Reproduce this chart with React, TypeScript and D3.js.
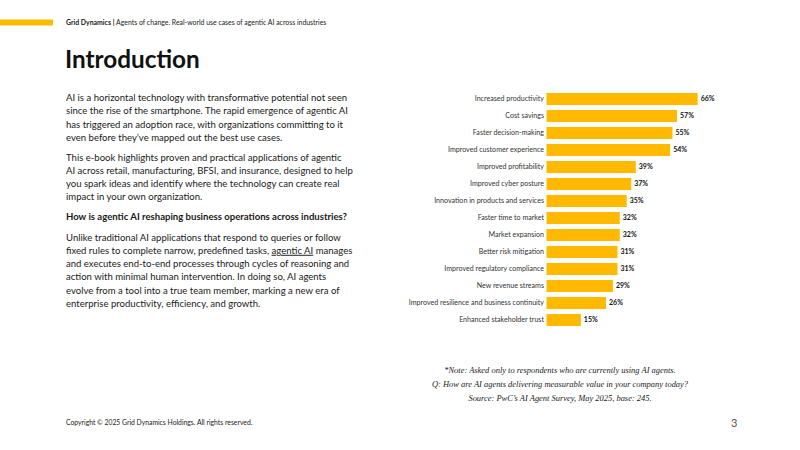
import React from "react";
import * as d3 from "d3";

const categories = [
  "Increased productivity",
  "Cost savings",
  "Faster decision-making",
  "Improved customer experience",
  "Improved profitability",
  "Improved cyber posture",
  "Innovation in products and services",
  "Faster time to market",
  "Market expansion",
  "Better risk mitigation",
  "Improved regulatory compliance",
  "New revenue streams",
  "Improved resilience and business continuity",
  "Enhanced stakeholder trust",
];
const values = [66, 57, 55, 54, 39, 37, 35, 32, 32, 31, 31, 29, 26, 15];

const para1 = [
  "AI is a horizontal technology with transformative potential not seen",
  "since the rise of the smartphone. The rapid emergence of agentic AI",
  "has triggered an adoption race, with organizations committing to it",
  "even before they\u2019ve mapped out the best use cases.",
];
const para2 = [
  "This e-book highlights proven and practical applications of agentic",
  "AI across retail, manufacturing, BFSI, and insurance, designed to help",
  "you spark ideas and identify where the technology can create real",
  "impact in your own organization.",
];
const question = "How is agentic AI reshaping business operations across industries?";
const para3 = [
  "Unlike traditional AI applications that respond to queries or follow",
  "fixed rules to complete narrow, predefined tasks, |agentic AI| manages",
  "and executes end-to-end processes through cycles of reasoning and",
  "action with minimal human intervention. In doing so, AI agents",
  "evolve from a tool into a true team member, marking a new era of",
  "enterprise productivity, efficiency, and growth.",
];
const notes = [
  "*Note: Asked only to respondents who are currently using AI agents.",
  "Q: How are AI agents delivering measurable value in your company today?",
  "Source: PwC\u2019s AI Agent Survey, May 2025, base: 245.",
];

const YELLOW = "#FFB900";
const SANS = "Lato, 'Open Sans', sans-serif";

function Line({ text, x, y }: { text: string; x: number; y: number }) {
  if (text.includes("|")) {
    const parts = text.split("|");
    return (
      <text x={x} y={y}>
        {parts.map((p, i) => (
          <tspan key={i} textDecoration={i === 1 ? "underline" : undefined}>
            {p}
          </tspan>
        ))}
      </text>
    );
  }
  return (
    <text x={x} y={y}>
      {text}
    </text>
  );
}

export default function App() {
  const n = categories.length;
  const y = d3
    .scaleBand<string>()
    .domain(categories)
    .range([90.5, 90.5 + 17 * n])
    .paddingInner(0.29)
    .paddingOuter(0.145);
  const x = d3.scaleLinear().domain([0, 100]).range([546.5, 775.5]);

  return (
    <svg
      width={800}
      height={450}
      style={{ position: "absolute", left: 0, top: 0, background: "#fff" }}
      fontFamily={SANS}
    >
      <rect x={0} y={19.5} width={53} height={6} fill={YELLOW} />
      <text x={66} y={25} fontSize={6.9} fill="#222">
        <tspan fontWeight={700}>Grid Dynamics | </tspan>
        <tspan>Agents of change. Real-world use cases of agentic AI across industries</tspan>
      </text>
      <text x={65} y={68} fontSize={24.3} fontWeight={700} fill="#111">
        Introduction
      </text>

      <g fontSize={9.55} fill="#1a1a1a">
        {para1.map((t, i) => (
          <Line key={"a" + i} text={t} x={66} y={101 + i * 13.3} />
        ))}
        {para2.map((t, i) => (
          <Line key={"b" + i} text={t} x={66} y={160.5 + i * 13.3} />
        ))}
        <text x={66} y={219.5} fontWeight={700}>
          {question}
        </text>
        {para3.map((t, i) => (
          <Line key={"c" + i} text={t} x={66} y={240.5 + i * 13.3} />
        ))}
      </g>

      <g>
        {categories.map((c, i) => {
          const yy = y(c)!;
          const bw = y.bandwidth();
          return (
            <g key={c}>
              <text
                x={544}
                y={yy + bw / 2}
                dy="0.35em"
                textAnchor="end"
                fontSize={7.1}
                fill="#333"
              >
                {c}
              </text>
              <rect x={x(0)} y={yy} width={x(values[i]) - x(0)} height={bw} fill={YELLOW} />
              <text
                x={x(values[i]) + 3}
                y={yy + bw / 2}
                dy="0.35em"
                fontSize={7}
                fontWeight={700}
                fill="#111"
              >
                {values[i]}%
              </text>
            </g>
          );
        })}
      </g>

      <g
        fontFamily="'Liberation Serif', 'DejaVu Serif', serif"
        fontStyle="italic"
        fontSize={8.45}
        fill="#222"
        textAnchor="middle"
      >
        {notes.map((t, i) => (
          <text key={i} x={560} y={372.5 + i * 14}>
            {t}
          </text>
        ))}
      </g>

      <text x={66} y={425} fontSize={6.8} fill="#222">
        Copyright © 2025 Grid Dynamics Holdings. All rights reserved.
      </text>
      <text x={731} y={427} fontSize={11} fill="#555">
        3
      </text>
    </svg>
  );
}
